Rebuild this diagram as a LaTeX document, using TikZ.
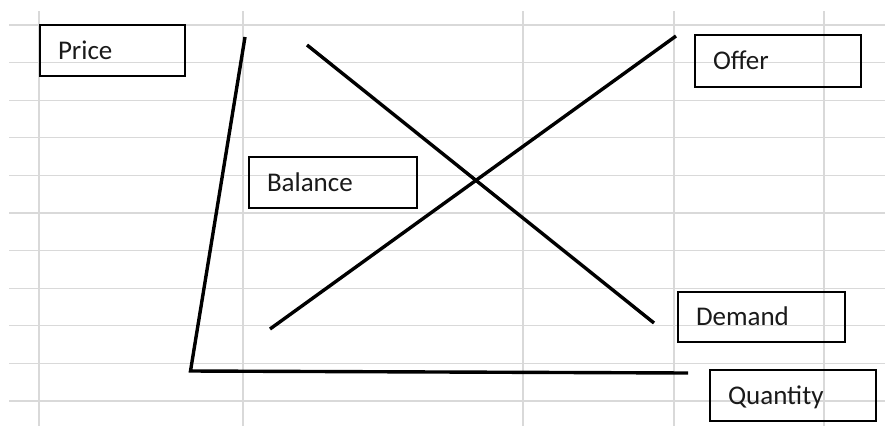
\documentclass[tikz,border=0pt]{standalone}
\usepackage{fontspec}
\setmainfont{Carlito}
\definecolor{gridgray}{HTML}{D9D9D9}
\definecolor{txt}{HTML}{1A1A1A}
\begin{document}
\begin{tikzpicture}[x=1pt,y=-1pt,
  gridline/.style={draw=gridgray, line width=1.2pt},
  curve/.style={draw=black, line width=3.4pt, line cap=butt},
  lbl/.style={draw=black, line width=2.2pt, anchor=north west, inner xsep=18pt, inner ysep=0pt,
    align=left, text height=17pt, text depth=0pt, text=txt, font=\fontsize{27}{30}\selectfont, outer sep=0pt}]
\useasboundingbox (0,0) rectangle (885,426);
\fill[white] (0,0) rectangle (885,426);
% grid
\foreach \y in {25,62.6,100.2,137.8,175.4,213,250.6,288.2,325.8,363.4,401}
  \draw[gridline] (9,\y) -- (885,\y);
\foreach \x in {39,243,523,674,824}
  \draw[gridline] (\x,11) -- (\x,426);
% boxes
\node[lbl, text width=109pt, minimum height=51pt] (price) at (40,25) {Price};
\node[lbl, text width=130pt, minimum height=52pt] (offer) at (695,35) {Offer};
\node[lbl, text width=132pt, minimum height=51pt] (balance) at (249,157) {Balance};
\node[lbl, text width=131pt, minimum height=50pt] (demand) at (678,292) {Demand};
\node[lbl, text width=130pt, minimum height=51pt] (quantity) at (710,370) {Quantity};
% axes and curves
\coordinate (ytop) at (245,37);
\coordinate (origin) at (190.5,371);
\coordinate (xend) at (688,373);
\coordinate (dstart) at (307,45);
\coordinate (dend) at (654,323);
\coordinate (ostart) at (270,329);
\coordinate (oend) at (676,36);
\draw[curve, line join=miter] (ytop) -- (origin) -- (xend);
\draw[curve] (dstart) -- (dend);
\draw[curve] (ostart) -- (oend);
\end{tikzpicture}
\end{document}
